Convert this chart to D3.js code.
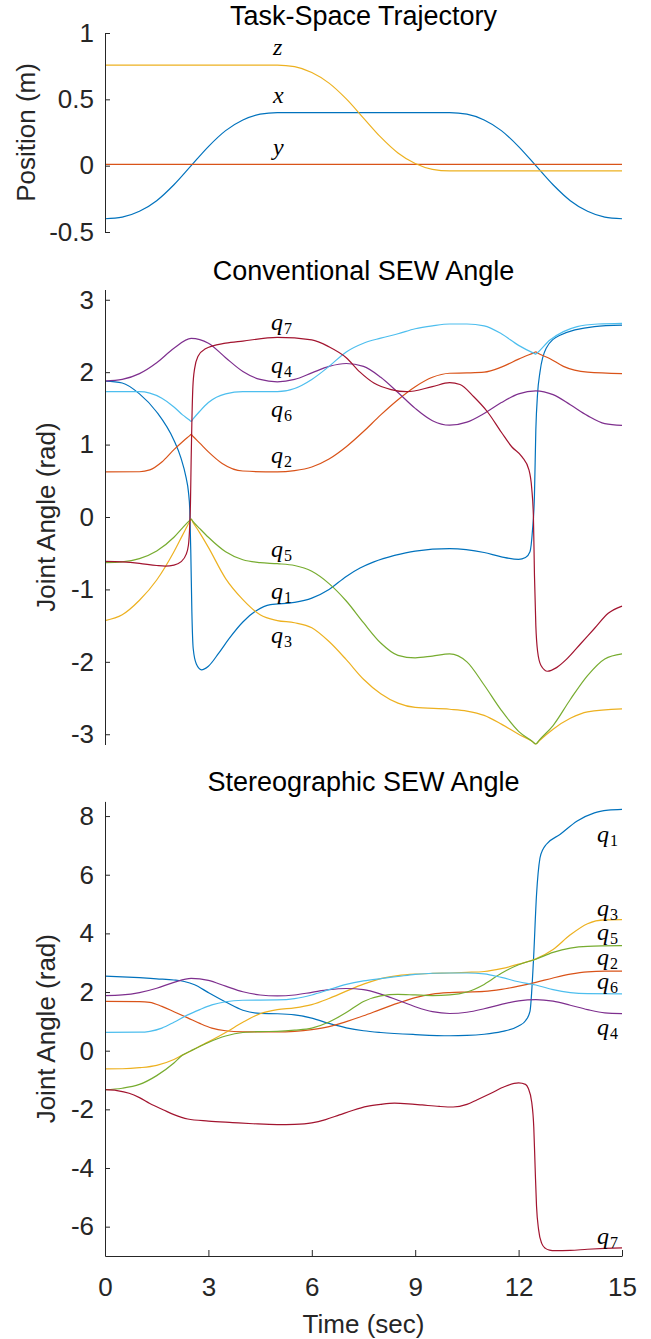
<!DOCTYPE html>
<html><head><meta charset="utf-8">
<script src="https://cdn.jsdelivr.net/npm/d3@7"></script>
<style>
body{margin:0;background:#fff}
svg{display:block}
text{font-family:"Liberation Sans",Arial,Helvetica,sans-serif}
</style>
</head><body>
<svg id="chart" width="651" height="1339"></svg>
<script>
// ---------- DATA ----------
// Task-space trajectory (m)
const taskT = [0,0.5,1,1.5,2,2.5,3,3.5,4,4.5,5,5.5,6,6.5,7,7.5,8,8.5,9,9.5,10,10.5,11,11.5,12,12.5,13,13.5,14,14.5,15];
const taskX = [-0.4,-0.388,-0.344,-0.264,-0.144,0,0.144,0.264,0.344,0.388,0.4,0.4,0.4,0.4,0.4,0.4,0.4,0.4,0.4,0.4,0.4,0.388,0.344,0.264,0.144,0,-0.144,-0.264,-0.344,-0.388,-0.4];
const taskY = [0.01,0.01,0.01,0.01,0.01,0.01,0.01,0.01,0.01,0.01,0.01,0.01,0.01,0.01,0.01,0.01,0.01,0.01,0.01,0.01,0.01,0.01,0.01,0.01,0.01,0.01,0.01,0.01,0.01,0.01,0.01];
const taskZ = [0.758,0.758,0.758,0.758,0.758,0.758,0.758,0.758,0.758,0.758,0.758,0.746,0.702,0.622,0.503,0.359,0.215,0.096,0.016,-0.028,-0.04,-0.04,-0.04,-0.04,-0.04,-0.04,-0.04,-0.04,-0.04,-0.04,-0.04];

// Conventional SEW angle joints (rad)
const cq1T = [0,0.5,1,1.5,2,2.2,2.35,2.42,2.46,2.49,2.52,2.56,2.65,2.8,3,3.3,3.6,4,4.4,4.8,5.5,6,6.5,7,7.4,7.8,8.4,9,10,11,11.5,12,12.2,12.33,12.4,12.46,12.5,12.55,12.62,12.8,13.2,14.2,15];
const cq1V = [1.877,1.85,1.70,1.45,1.06,0.82,0.55,0.35,0.1,-0.5,-1.3,-1.82,-2.03,-2.11,-2.06,-1.88,-1.68,-1.45,-1.29,-1.21,-1.18,-1.12,-1.0,-0.82,-0.705,-0.62,-0.53,-0.47,-0.437,-0.49,-0.55,-0.585,-0.56,-0.48,-0.2,0.3,1.2,1.7,2.0,2.33,2.51,2.63,2.65];
const cq2T = [0,1,1.3,1.65,2,2.25,2.45,2.5,2.55,2.75,3,3.4,4,5,5.5,6,6.5,7,7.5,8,8.5,9,9.5,10,10.5,11,11.5,12,12.45,12.5,12.55,12.9,13.3,14,15];
const cq2V = [0.622,0.625,0.65,0.76,0.93,1.04,1.12,1.14,1.115,1.02,0.9,0.74,0.635,0.622,0.64,0.69,0.80,0.97,1.18,1.41,1.62,1.80,1.93,1.985,1.99,2.0,2.07,2.18,2.27,2.28,2.265,2.19,2.08,2.0,1.98];
const cq3T = [0,0.5,1,1.5,2,2.25,2.45,2.5,2.55,2.75,3,3.5,4,4.5,5,5.5,6,6.5,7,7.5,8,8.5,9,10,10.5,11,11.5,12,12.4,12.5,12.6,13,13.5,14,15];
const cq3V = [-1.43,-1.35,-1.15,-0.87,-0.48,-0.25,-0.07,-0.03,-0.07,-0.22,-0.42,-0.85,-1.14,-1.35,-1.43,-1.46,-1.53,-1.72,-1.97,-2.24,-2.44,-2.57,-2.63,-2.655,-2.68,-2.74,-2.86,-3.0,-3.1,-3.135,-3.09,-2.93,-2.78,-2.69,-2.65];
const cq4T = [0,0.5,1,1.5,2,2.5,3,3.5,4,4.5,5,5.5,6,6.5,7,7.5,8,8.5,9,9.5,10,10.5,11,11.5,12,12.5,13,13.5,14,14.5,15];
const cq4V = [1.877,1.90,1.98,2.13,2.33,2.467,2.40,2.20,2.01,1.90,1.867,1.90,1.99,2.08,2.12,2.08,1.93,1.72,1.50,1.33,1.268,1.31,1.43,1.58,1.70,1.743,1.69,1.55,1.40,1.29,1.265];
const cq5T = [0,0.5,1,1.5,2,2.25,2.45,2.5,2.55,2.75,3,3.5,4,4.5,5,5.5,6,6.5,7,7.5,8,8.5,9,9.5,10,10.5,11,11.5,12,12.4,12.5,12.6,13,13.5,14,14.5,15];
const cq5V = [-0.63,-0.62,-0.575,-0.47,-0.28,-0.15,-0.05,-0.03,-0.06,-0.16,-0.28,-0.48,-0.59,-0.63,-0.645,-0.67,-0.75,-0.92,-1.16,-1.46,-1.74,-1.91,-1.945,-1.92,-1.89,-2.0,-2.32,-2.67,-2.96,-3.10,-3.135,-3.08,-2.88,-2.52,-2.19,-1.96,-1.89];
const cq6T = [0,1,1.3,1.65,2,2.25,2.45,2.5,2.55,2.75,3,3.5,4,5,5.5,6,6.5,7,7.5,8,8.5,9,9.5,10,10.5,11,11.5,12,12.45,12.5,12.55,12.9,13.3,13.7,14.3,15];
const cq6V = [1.73,1.73,1.71,1.64,1.52,1.41,1.34,1.32,1.35,1.46,1.58,1.70,1.73,1.73,1.775,1.9,2.08,2.28,2.40,2.47,2.53,2.6,2.64,2.665,2.665,2.64,2.53,2.37,2.26,2.25,2.27,2.44,2.56,2.63,2.665,2.675];
const cq7T = [0,0.5,1,1.5,1.75,2,2.2,2.35,2.42,2.46,2.48,2.5,2.52,2.55,2.6,2.7,2.9,3.5,4,5,6,6.5,7,7.4,7.8,8.3,8.75,9.5,10,10.3,10.7,11.1,11.5,11.8,12.1,12.3,12.38,12.43,12.46,12.5,12.55,12.65,12.84,13.1,13.4,13.8,14.2,14.6,15];
const cq7V = [-0.613,-0.62,-0.64,-0.67,-0.678,-0.665,-0.62,-0.52,-0.39,-0.1,0.2,0.8,1.3,1.8,2.05,2.22,2.32,2.40,2.43,2.48,2.446,2.35,2.20,2.0,1.85,1.76,1.73,1.80,1.855,1.83,1.66,1.45,1.17,0.97,0.83,0.65,0.4,0,-0.8,-1.5,-1.85,-2.05,-2.13,-2.08,-1.96,-1.75,-1.54,-1.33,-1.23];

// Stereographic SEW angle joints (rad)
const sq1T = [0,0.5,1,1.5,2,2.3,2.6,3,3.5,4,4.5,5,5.5,6,6.5,7,7.5,8,9,10,10.5,11,11.5,12,12.2,12.33,12.43,12.52,12.62,12.7,12.8,13.2,13.7,14.2,14.6,15];
const sq1V = [2.54,2.52,2.49,2.45,2.41,2.36,2.25,1.98,1.66,1.38,1.27,1.26,1.22,1.11,0.93,0.78,0.68,0.62,0.55,0.51,0.52,0.56,0.65,0.84,1.02,1.34,3.05,5.32,6.57,6.85,7.03,7.37,7.83,8.11,8.2,8.23];
const sq2T = [0,1,1.3,1.65,2,2.4,2.75,3.1,3.5,4,5,5.5,6,6.5,7,7.5,8,8.5,9,9.5,10,10.5,11,11.5,12,12.5,13,13.5,14,14.5,15];
const sq2V = [1.68,1.675,1.65,1.51,1.33,1.12,0.93,0.77,0.68,0.645,0.637,0.66,0.72,0.82,0.99,1.19,1.41,1.62,1.81,1.93,1.98,2.0,2.02,2.09,2.2,2.33,2.48,2.61,2.69,2.71,2.71];
const sq3T = [0,0.5,1,1.5,2,2.25,2.5,3,3.5,4,4.5,5,5.5,6,6.5,7,7.5,8,8.5,9,9.5,10,10.5,11,11.5,12,12.5,13,13.5,14,14.5,15];
const sq3V = [-0.62,-0.615,-0.58,-0.50,-0.30,-0.15,0.0,0.30,0.62,0.97,1.26,1.40,1.46,1.57,1.78,2.03,2.27,2.46,2.56,2.61,2.635,2.65,2.67,2.70,2.8,2.95,3.13,3.45,3.95,4.33,4.46,4.47];
const sq4T = cq4T;
const sq4V = cq4V;
const sq5T = [0,0.5,1,1.5,2,2.25,2.5,3,3.5,4,4.5,5,5.5,6,6.5,7,7.5,8,8.5,9,9.5,10,10.5,11,11.5,12,12.5,13,13.5,14,15];
const sq5V = [-1.33,-1.28,-1.15,-0.85,-0.42,-0.15,0.0,0.28,0.5,0.62,0.65,0.66,0.7,0.77,0.98,1.3,1.68,1.87,1.92,1.9,1.88,1.9,2.0,2.26,2.64,2.93,3.12,3.35,3.5,3.56,3.58];
const sq6T = [0,1,1.3,1.65,2,2.4,2.75,3.1,3.5,4,5,5.5,6,6.5,7,7.5,8,8.5,9,9.5,10,10.5,11,11.5,12,12.5,13,13.5,14,15];
const sq6V = [0.625,0.63,0.66,0.77,0.97,1.22,1.40,1.56,1.67,1.72,1.73,1.775,1.9,2.08,2.26,2.38,2.46,2.53,2.6,2.64,2.65,2.65,2.62,2.5,2.35,2.24,2.08,1.98,1.945,1.94];
const sq7T = [0,0.35,0.7,1,1.3,1.7,2,2.4,3,3.7,4.3,5,5.5,6,6.4,6.8,7.2,7.6,8,8.4,8.8,9.2,9.7,10.1,10.5,10.8,11.2,11.6,12,12.2,12.28,12.38,12.44,12.48,12.52,12.58,12.67,12.78,12.9,13.05,13.5,14,14.5,15];
const sq7V = [-1.33,-1.36,-1.45,-1.6,-1.8,-2.02,-2.18,-2.33,-2.40,-2.45,-2.49,-2.52,-2.51,-2.46,-2.35,-2.19,-2.03,-1.90,-1.83,-1.79,-1.81,-1.85,-1.90,-1.92,-1.83,-1.67,-1.45,-1.22,-1.10,-1.15,-1.28,-1.75,-2.6,-4.0,-5.3,-6.1,-6.57,-6.74,-6.8,-6.82,-6.81,-6.77,-6.74,-6.72];

// Tick values / labels
const timeTicks = [0,3,6,9,12,15];
const posTicks = [-0.5,0,0.5,1];
const convTicks = [-3,-2,-1,0,1,2,3];
const stereoTicks = [-6,-4,-2,0,2,4,6,8];

// Colors (MATLAB default order)
const colors = ["#0072BD","#D95319","#EDB120","#7E2F8E","#77AC30","#4DBEEE","#A2142F"];

// ---------- DRAW ----------
const svg = d3.select("#chart");
const axisColor = "#262626";
const FS = 26;
const TFS = 27;
const fmt = d => String(d);
const x = d3.scaleLinear().domain([0,15]).range([105,622]);

function zip(T,V){ return T.map((t,i)=>[t,V[i]]); }

function drawPanel(cfg){
  const y = d3.scaleLinear().domain(cfg.domain).range(cfg.range);
  const g = svg.append("g");
  const line = d3.line().x(d=>x(d[0])).y(d=>y(d[1])).curve(d3.curveMonotoneX);
  cfg.series.forEach(s=>{
    g.append("path").datum(zip(s.T,s.V))
      .attr("fill","none").attr("stroke",s.color).attr("stroke-width",1.2)
      .attr("stroke-linejoin","round").attr("d",line);
  });
  const ay = d3.axisLeft(y).tickValues(cfg.ticks).tickFormat(fmt)
    .tickSizeInner(-5).tickSizeOuter(0).tickPadding(11);
  const gy = g.append("g").attr("transform","translate(105,0)").call(ay);
  gy.select(".domain").attr("stroke",axisColor).attr("stroke-width",1);
  gy.selectAll(".tick line").attr("stroke",axisColor).attr("stroke-width",1);
  gy.selectAll(".tick text").attr("fill",axisColor).style("font-size",FS+"px").attr("font-family",null);
  // title
  g.append("text").attr("x",363.5).attr("y",cfg.titleY).attr("text-anchor","middle")
    .style("font-size",TFS+"px").attr("fill","#000").text(cfg.title);
  // y label
  const yc = (cfg.range[0]+cfg.range[1])/2;
  g.append("text").attr("transform",`translate(${cfg.ylabelX},${yc}) rotate(-90)`)
    .attr("text-anchor","middle").style("font-size",FS+"px").attr("fill",axisColor).text(cfg.ylabel);
  // curve labels
  cfg.labels.forEach(l=>{
    const t = g.append("text").attr("x",l.x).attr("y",l.y)
      .style("font-family","'Liberation Serif','Times New Roman',serif").style("font-size","24px").attr("fill","#000");
    t.append("tspan").style("font-style","italic").text(l.name);
    if(l.sub) t.append("tspan").attr("dy",4).attr("dx",1).style("font-size","16px").text(l.sub);
  });
  return {g,y};
}

drawPanel({
  domain:[-0.5,1], range:[232,33], ticks:posTicks,
  title:"Task-Space Trajectory", titleY:25, ylabel:"Position (m)", ylabelX:35,
  series:[{T:taskT,V:taskX,color:colors[0]},{T:taskT,V:taskY,color:colors[1]},{T:taskT,V:taskZ,color:colors[2]}],
  labels:[{x:273,y:55,name:"z"},{x:273,y:103,name:"x"},{x:273,y:155,name:"y"}]
});

drawPanel({
  domain:[-Math.PI,Math.PI], range:[744.5,289.5], ticks:convTicks,
  title:"Conventional SEW Angle", titleY:280, ylabel:"Joint Angle (rad)", ylabelX:55,
  series:[{T:cq1T,V:cq1V,color:colors[0]},{T:cq2T,V:cq2V,color:colors[1]},{T:cq3T,V:cq3V,color:colors[2]},
          {T:cq4T,V:cq4V,color:colors[3]},{T:cq5T,V:cq5V,color:colors[4]},{T:cq6T,V:cq6V,color:colors[5]},
          {T:cq7T,V:cq7V,color:colors[6]}],
  labels:[{x:271,y:330,name:"q",sub:"7"},{x:271,y:373,name:"q",sub:"4"},{x:271,y:417,name:"q",sub:"6"},
          {x:271,y:463,name:"q",sub:"2"},{x:271,y:557,name:"q",sub:"5"},{x:271,y:599,name:"q",sub:"1"},
          {x:271,y:643,name:"q",sub:"3"}]
});

drawPanel({
  domain:[-7,8.5], range:[1256,801.4], ticks:stereoTicks,
  title:"Stereographic SEW Angle", titleY:791, ylabel:"Joint Angle (rad)", ylabelX:55,
  series:[{T:sq1T,V:sq1V,color:colors[0]},{T:sq2T,V:sq2V,color:colors[1]},{T:sq3T,V:sq3V,color:colors[2]},
          {T:sq4T,V:sq4V,color:colors[3]},{T:sq5T,V:sq5V,color:colors[4]},{T:sq6T,V:sq6V,color:colors[5]},
          {T:sq7T,V:sq7V,color:colors[6]}],
  labels:[{x:597,y:842,name:"q",sub:"1"},{x:597,y:916,name:"q",sub:"3"},{x:597,y:940,name:"q",sub:"5"},
          {x:597,y:965,name:"q",sub:"2"},{x:597,y:989,name:"q",sub:"6"},{x:597,y:1035,name:"q",sub:"4"},
          {x:597,y:1244,name:"q",sub:"7"}]
});

// x axis on bottom panel
const ax = d3.axisBottom(x).tickValues(timeTicks).tickFormat(fmt)
  .tickSizeInner(-6).tickSizeOuter(0).tickPadding(22);
const gx = svg.append("g").attr("transform","translate(0,1256)").call(ax);
gx.select(".domain").attr("stroke",axisColor).attr("stroke-width",1);
gx.selectAll(".tick line").attr("stroke",axisColor).attr("stroke-width",1);
gx.selectAll(".tick text").attr("fill",axisColor).style("font-size",FS+"px").attr("font-family",null);
svg.append("text").attr("x",363.5).attr("y",1333).attr("text-anchor","middle")
  .style("font-size",FS+"px").attr("fill",axisColor).text("Time (sec)");
</script>
</body></html>
